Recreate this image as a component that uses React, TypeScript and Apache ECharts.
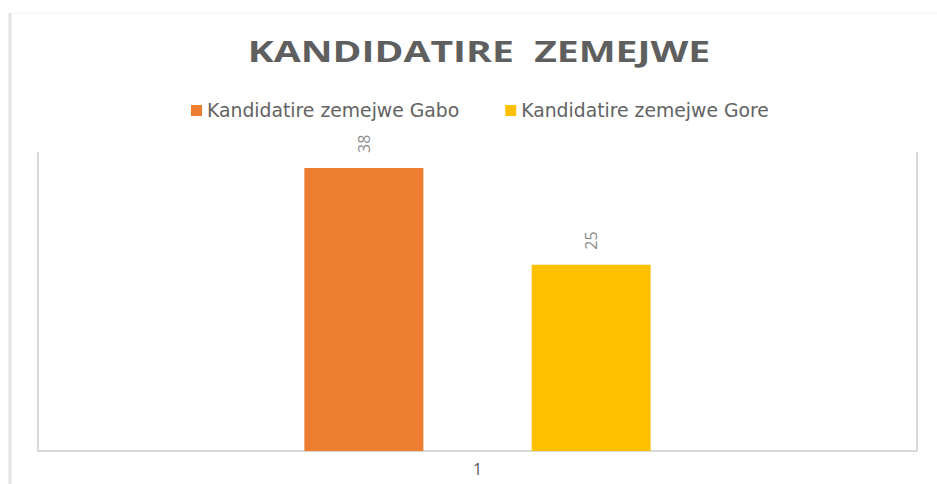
import React, { useEffect, useRef } from "react";
import * as echarts from "echarts";

const categories = ["1"];
const seriesNames = ["Kandidatire zemejwe Gabo", "Kandidatire zemejwe Gore"];
const gaboValues = [38];
const goreValues = [25];
const colors = ["#ED7D31", "#FFC000"];
const titleText = "KANDIDATIRE  ZEMEJWE";

export default function App() {
  const ref = useRef<HTMLDivElement>(null);
  useEffect(() => {
    if (!ref.current) return;
    const chart = echarts.init(ref.current, undefined, { renderer: "svg" });
    const labelCfg = {
      show: true,
      position: "top",
      rotate: 90,
      align: "left",
      verticalAlign: "middle",
      distance: 15,
      color: "#8c8c8c",
      fontSize: 16,
      fontFamily: "Open Sans",
    };
    chart.setOption({
      animation: false,
      backgroundColor: "#ffffff",
      legend: {
        top: 96,
        left: 186,
        itemWidth: 11,
        itemHeight: 11,
        itemGap: 46,
        icon: "rect",
        textStyle: { fontFamily: "DejaVu Sans", fontSize: 18.8, color: "#636363" },
        data: seriesNames,
      },
      graphic: [
        { type: "line", shape: { x1: 10, y1: 13, x2: 10, y2: 484 }, style: { stroke: "#e3e3e3", lineWidth: 3 } },
        { type: "line", shape: { x1: 10, y1: 13, x2: 937, y2: 13 }, style: { stroke: "#f3f3f3", lineWidth: 1 } },
        {
          type: "text",
          x: 479,
          y: 51,
          scaleX: 1.35,
          style: {
            text: titleText,
            font: "bold 29px 'Open Sans'",
            fill: "#5f5f5f",
            align: "center",
            verticalAlign: "middle",
          },
        },
      ],
      grid: { left: 38, right: 20, top: 153, bottom: 33 },
      xAxis: {
        type: "category",
        data: categories,
        axisLine: { show: true, lineStyle: { color: "#d9d9d9", width: 2 } },
        axisTick: { show: false },
        axisLabel: { color: "#595959", fontSize: 16, fontFamily: "Open Sans", margin: 10 },
      },
      yAxis: [
        {
          type: "value",
          min: 0,
          max: 40,
          interval: 10,
          position: "left",
          axisLine: { show: true, lineStyle: { color: "#d9d9d9", width: 2 } },
          axisTick: { show: false },
          axisLabel: { show: false },
          splitLine: { show: false },
        },
        {
          type: "value",
          min: 0,
          max: 40,
          interval: 10,
          position: "right",
          axisLine: { show: true, lineStyle: { color: "#d9d9d9", width: 2 } },
          axisTick: { show: false },
          axisLabel: { show: false },
          splitLine: { show: false },
        },
      ],
      series: [
        {
          name: seriesNames[0],
          type: "bar",
          data: gaboValues,
          barWidth: 119,
          barGap: "91%",
          itemStyle: { color: colors[0] },
          label: labelCfg,
        },
        {
          name: seriesNames[1],
          type: "bar",
          data: goreValues,
          barWidth: 119,
          barGap: "91%",
          itemStyle: { color: colors[1] },
          label: labelCfg,
        },
      ],
    });
    return () => chart.dispose();
  }, []);
  return <div ref={ref} style={{ width: 937, height: 484, position: "absolute", left: 0, top: 0 }} />;
}
